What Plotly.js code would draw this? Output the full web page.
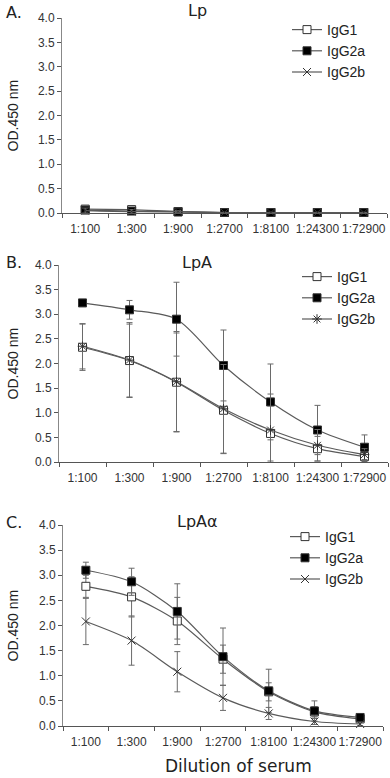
<!DOCTYPE html>
<html>
<head>
<meta charset="utf-8">
<script src="https://cdn.plot.ly/plotly-3.0.1.min.js"></script>
<style>
  html, body { margin: 0; padding: 0; background: #fff; }
  #chart { width: 390px; height: 778px; }
</style>
</head>
<body>
<div id="chart"></div>
<script>
// Serum dilution series shared by all three panels
const dilutions = ["1:100", "1:300", "1:900", "1:2700", "1:8100", "1:24300", "1:72900"];
const isotypes = ["IgG1", "IgG2a", "IgG2b"];
const panelNames = ["Lp", "LpA", "LpAα"];
const panelLetters = ["A.", "B.", "C."];

// Panel A: Lp (OD450 means and SD)
const lpIgG1 = [0.08, 0.07, 0.03, 0.01, 0.01, 0.01, 0.01];
const lpIgG1Err = [0.07, 0.06, 0.02, 0.005, 0.005, 0.005, 0.005];
const lpIgG2a = [0.06, 0.04, 0.02, 0.01, 0.01, 0.01, 0.01];
const lpIgG2aErr = [0.03, 0.02, 0.01, 0.005, 0.005, 0.005, 0.005];
const lpIgG2b = [0.05, 0.03, 0.03, 0.01, 0.01, 0.01, 0.01];
const lpIgG2bErr = [0.05, 0.04, 0.02, 0.005, 0.005, 0.005, 0.005];

// Panel B: LpA
const lpaIgG1 = [2.33, 2.06, 1.62, 1.05, 0.58, 0.27, 0.11];
const lpaIgG1Err = [0.47, 0.74, 1.00, 0.88, 0.56, 0.25, 0.10];
const lpaIgG2a = [3.23, 3.09, 2.90, 1.96, 1.22, 0.65, 0.30];
const lpaIgG2aErr = [0.04, 0.19, 0.75, 0.72, 0.77, 0.50, 0.25];
const lpaIgG2b = [2.35, 2.07, 1.63, 1.08, 0.65, 0.34, 0.15];
const lpaIgG2bErr = [0.46, 0.76, 1.02, 0.90, 0.73, 0.32, 0.12];

// Panel C: LpAα
const lpaaIgG1 = [2.78, 2.57, 2.09, 1.33, 0.68, 0.28, 0.14];
const lpaaIgG1Err = [0.22, 0.40, 0.47, 0.28, 0.18, 0.10, 0.04];
const lpaaIgG2a = [3.10, 2.87, 2.28, 1.38, 0.70, 0.30, 0.17];
const lpaaIgG2aErr = [0.16, 0.27, 0.55, 0.57, 0.43, 0.20, 0.05];
const lpaaIgG2b = [2.08, 1.70, 1.08, 0.56, 0.25, 0.09, 0.04];
const lpaaIgG2bErr = [0.46, 0.49, 0.40, 0.25, 0.12, 0.06, 0.03];

const W = 390, H = 778;
const px = x => x / W;
const py = y => (H - y) / H;

const panels = [
  { series: [[lpIgG1, lpIgG1Err], [lpIgG2a, lpIgG2aErr], [lpIgG2b, lpIgG2bErr]],
    x0: 62, x1: 387, yTop: 18, yBot: 213, b: "x-thin-open",
    titleY: 11, legX: 287, legY: 14 },
  { series: [[lpaIgG1, lpaIgG1Err], [lpaIgG2a, lpaIgG2aErr], [lpaIgG2b, lpaIgG2bErr]],
    x0: 59, x1: 388, yTop: 265, yBot: 462, b: "asterisk-open",
    titleY: 262, legX: 297, legY: 261 },
  { series: [[lpaaIgG1, lpaaIgG1Err], [lpaaIgG2a, lpaaIgG2aErr], [lpaaIgG2b, lpaaIgG2bErr]],
    x0: 63, x1: 383, yTop: 525, yBot: 726, b: "x-thin-open",
    titleY: 521, legX: 285, legY: 521 }
];

const lineCol = "#5a5a5a";
const errCol = "#6a6a6a";
const textCol = "#222";
const tickFont = { family: "Liberation Sans, Arial, sans-serif", size: 12, color: "#333" };

const data = [];
const layout = {
  width: W, height: H,
  margin: { l: 0, r: 0, t: 0, b: 0 },
  paper_bgcolor: "#fff", plot_bgcolor: "rgba(0,0,0,0)",
  showlegend: true,
  annotations: [],
  font: { family: "Liberation Sans, Arial, sans-serif", color: textCol }
};

panels.forEach((p, i) => {
  const n = i === 0 ? "" : String(i + 1);
  const xa = "x" + n, ya = "y" + n;
  const legName = i === 0 ? "legend" : "legend" + (i + 1);

  const markers = [
    { symbol: "square", color: "#fff", line: { color: "#333", width: 1 }, size: 8 },
    { symbol: "square", color: "#000", line: { color: "#333", width: 1 }, size: 8 },
    { symbol: p.b, color: "#333", line: { color: "#333", width: 1 }, size: 8 }
  ];

  p.series.forEach((s, k) => {
    data.push({
      type: "scatter", mode: "lines+markers",
      x: dilutions, y: s[0],
      name: isotypes[k],
      xaxis: xa, yaxis: ya, legend: legName,
      line: { color: lineCol, width: 1.2, shape: "spline", smoothing: 0.8 },
      marker: markers[k],
      error_y: { type: "data", array: s[1], visible: true, color: errCol, thickness: 1, width: 3 },
      cliponaxis: false
    });
  });

  layout["xaxis" + n] = {
    domain: [px(p.x0), px(p.x1)], anchor: ya,
    type: "category", categoryarray: dilutions, categoryorder: "array",
    range: [-0.5, 6.5],
    tickson: "boundaries", ticks: "outside", ticklen: 4, tickcolor: "#555",
    tickangle: 0, ticklabelstandoff: 5,
    showline: true, linecolor: "#555", linewidth: 1,
    showgrid: false, zeroline: false, fixedrange: true,
    tickfont: tickFont
  };
  layout["yaxis" + n] = {
    domain: [py(p.yBot), py(p.yTop)], anchor: xa,
    range: [0, 4], dtick: 0.5, tick0: 0, tickformat: ".1f",
    ticks: "outside", ticklen: 4, tickcolor: "#555",
    showline: true, linecolor: "#888", linewidth: 1,
    showgrid: false, zeroline: false, fixedrange: true,
    tickfont: tickFont
  };
  layout[legName] = {
    x: px(p.legX), y: py(p.legY), xanchor: "left", yanchor: "top",
    bgcolor: "rgba(0,0,0,0)", borderwidth: 0,
    itemwidth: 30, tracegroupgap: 0,
    font: { family: "Liberation Sans, Arial, sans-serif", size: 14, color: textCol }
  };

  // Panel heading, letter and y title
  layout.annotations.push(
    { xref: "paper", yref: "paper", x: px(197), y: py(p.titleY), text: panelNames[i],
      showarrow: false, xanchor: "center", yanchor: "middle",
      font: { family: "DejaVu Sans, Verdana, sans-serif", size: 16, color: textCol } },
    { xref: "paper", yref: "paper", x: px(4), y: py(p.titleY + 1), text: panelLetters[i],
      showarrow: false, xanchor: "left", yanchor: "middle",
      font: { family: "DejaVu Sans, Verdana, sans-serif", size: 16, color: textCol } },
    { xref: "paper", yref: "paper", x: px(12), y: py((p.yTop + p.yBot) / 2), text: "OD.450 nm",
      showarrow: false, textangle: -90, xanchor: "center", yanchor: "middle",
      font: { family: "Liberation Sans, Arial, sans-serif", size: 14, color: textCol } }
  );
});

layout.annotations.push({
  xref: "paper", yref: "paper", x: px(238), y: 0, text: "Dilution of serum",
  showarrow: false, xanchor: "center", yanchor: "bottom",
  font: { family: "DejaVu Sans, Verdana, sans-serif", size: 17, color: textCol }
});

Plotly.newPlot("chart", data, layout, { staticPlot: true, displayModeBar: false });
</script>
</body>
</html>
